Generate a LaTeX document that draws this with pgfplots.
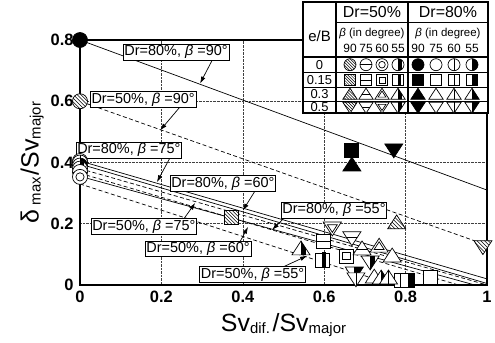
\documentclass[border=0pt]{standalone}
\usepackage{fontspec}
\setmainfont{Liberation Sans}
\usepackage{pgfplots}
\pgfplotsset{compat=1.18}
\usetikzlibrary{arrows.meta}

% ---- marker shapes -------------------------------------------------
\newcommand\shp[2]{%
  \if#1c\pgfpathcircle{\pgfpointorigin}{#2}\fi
  \if#1s\pgfpathrectanglecorners{\pgfpoint{-#2}{-#2}}{\pgfpoint{#2}{#2}}\fi
  \if#1t\pgfpathmoveto{\pgfpoint{0pt}{1.05*#2}}\pgfpathlineto{\pgfpoint{-1.2*#2}{-0.8*#2}}\pgfpathlineto{\pgfpoint{1.2*#2}{-0.8*#2}}\pgfpathclose\fi
  \if#1v\pgfpathmoveto{\pgfpoint{0pt}{-1.05*#2}}\pgfpathlineto{\pgfpoint{-1.2*#2}{0.8*#2}}\pgfpathlineto{\pgfpoint{1.2*#2}{0.8*#2}}\pgfpathclose\fi}
\newcommand\mkbegin{\pgfsetlinewidth{0.7bp}\pgfsetstrokecolor{black}\pgfsetdash{}{0pt}}
\newcommand\mkbase[2]{\mkbegin\pgfsetfillcolor{white}\shp{#1}{#2}\pgfusepath{fill}}
\newcommand\mkF[2]{\mkbegin\pgfsetfillcolor{black}\shp{#1}{#2}\pgfusepath{fill,stroke}}
\newcommand\mkO[2]{\mkbegin\pgfsetfillcolor{white}\shp{#1}{#2}\pgfusepath{fill,stroke}}
\newcommand\mkV[2]{\mkbase{#1}{#2}%
  \begin{pgfscope}\shp{#1}{#2}\pgfusepath{clip}\pgfpathmoveto{\pgfpoint{0pt}{-2*#2}}\pgfpathlineto{\pgfpoint{0pt}{2*#2}}\pgfusepath{stroke}\end{pgfscope}%
  \shp{#1}{#2}\pgfusepath{stroke}}
\newcommand\mkH[2]{\mkbase{#1}{#2}%
  \begin{pgfscope}\shp{#1}{#2}\pgfusepath{clip}\pgfpathmoveto{\pgfpoint{-2*#2}{0pt}}\pgfpathlineto{\pgfpoint{2*#2}{0pt}}\pgfusepath{stroke}\end{pgfscope}%
  \shp{#1}{#2}\pgfusepath{stroke}}
\newcommand\mkD[2]{\mkbase{#1}{#2}\shp{#1}{#2}\pgfusepath{stroke}\shp{#1}{0.55*#2}\pgfusepath{stroke}}
\newcommand\mkR[2]{\mkbase{#1}{#2}%
  \begin{pgfscope}\shp{#1}{#2}\pgfusepath{clip}\pgfsetfillcolor{black}\pgfpathrectanglecorners{\pgfpoint{0pt}{-2*#2}}{\pgfpoint{2*#2}{2*#2}}\pgfusepath{fill}\end{pgfscope}%
  \shp{#1}{#2}\pgfusepath{stroke}}
\newcommand\mkM[2]{\mkbase{#1}{#2}%
  \begin{pgfscope}\shp{#1}{#2}\pgfusepath{clip}\pgfsetfillcolor{black}\pgfpathrectanglecorners{\pgfpoint{0pt}{-2*#2}}{\pgfpoint{0.6*#2}{2*#2}}\pgfusepath{fill}\end{pgfscope}%
  \shp{#1}{#2}\pgfusepath{stroke}}
\newcommand\mkX[2]{\mkbase{#1}{#2}%
  \begin{pgfscope}\shp{#1}{#2}\pgfusepath{clip}\pgfsetlinewidth{0.45bp}%
  \foreach \k in {-4,...,4}{\pgfpathmoveto{\pgfpoint{\k*0.5*#2-2*#2}{2*#2}}\pgfpathlineto{\pgfpoint{\k*0.5*#2+2*#2}{-2*#2}}\pgfusepath{stroke}}%
  \end{pgfscope}\shp{#1}{#2}\pgfusepath{stroke}}
\newcommand\declmarks[2]{%
  \pgfdeclareplotmark{#1-f}{\mkF{#1}{#2}}%
  \pgfdeclareplotmark{#1-o}{\mkO{#1}{#2}}%
  \pgfdeclareplotmark{#1-v}{\mkV{#1}{#2}}%
  \pgfdeclareplotmark{#1-h}{\mkH{#1}{#2}}%
  \pgfdeclareplotmark{#1-d}{\mkD{#1}{#2}}%
  \pgfdeclareplotmark{#1-r}{\mkR{#1}{#2}}%
  \pgfdeclareplotmark{#1-m}{\mkM{#1}{#2}}%
  \pgfdeclareplotmark{#1-x}{\mkX{#1}{#2}}}
\declmarks{c}{7.5bp}\declmarks{s}{7bp}\declmarks{t}{7.5bp}\declmarks{v}{7.5bp}

\newcommand\lbl{\fontsize{14.5}{15}\selectfont}
\newcommand\bigf{\fontsize{25}{25}\selectfont}
\newcommand\subf{\fontsize{15}{15}\selectfont}
\newcommand\pt[3]{\addplot[black, only marks, mark=#1] coordinates {#2};}
\newcommand\legrow[2]{%
  \addplot[black, only marks, mark=#1-x, mark options={scale=0.8}] coordinates {(47,#2)};
  \addplot[black, only marks, mark=#1-h, mark options={scale=0.8}] coordinates {(63,#2)};
  \addplot[black, only marks, mark=#1-d, mark options={scale=0.8}] coordinates {(79,#2)};
  \addplot[black, only marks, mark=#1-m, mark options={scale=0.8}] coordinates {(95,#2)};
  \addplot[black, only marks, mark=#1-f, mark options={scale=0.8}] coordinates {(115,#2)};
  \addplot[black, only marks, mark=#1-o, mark options={scale=0.8}] coordinates {(133,#2)};
  \addplot[black, only marks, mark=#1-v, mark options={scale=0.8}] coordinates {(151,#2)};
  \addplot[black, only marks, mark=#1-r, mark options={scale=0.8}] coordinates {(169,#2)};}
\newcommand\degnum[2]{\node[font=\fontsize{12}{12}\selectfont] at (axis cs:#1,64.5) {#2};}

\begin{document}
\begin{tikzpicture}
\begin{axis}[
  scale only axis, width=407bp, height=245bp,
  at={(0,0)}, anchor=south west,
  xmin=0, xmax=1, ymin=0, ymax=0.8,
  xtick={0,0.2,0.4,0.6,0.8,1}, xticklabels={0,0.2,0.4,0.6,0.8,1},
  ytick={0,0.2,0.4,0.6,0.8}, yticklabels={0,0.2,0.4,0.6,0.8},
  grid=major, major grid style={densely dotted, black!75, line width=0.6bp},
  axis line style={line width=2.6bp},
  major tick length=0pt,
  tick label style={font=\fontsize{16.5}{16.5}\selectfont\bfseries},
  xticklabel style={yshift=-3bp},
  yticklabel style={xshift=-3bp},
  clip=false,
  xlabel style={yshift=-3bp},
  xlabel={{\bigf Sv}\raisebox{-2bp}{\subf dif.}\ {\bigf /Sv}\raisebox{-2bp}{\subf major}},
  ylabel={{\bigf δ}\raisebox{-2bp}{\subf\ max}\,{\bigf /Sv}\raisebox{-2bp}{\subf major}},
]
% regression lines
\addplot[black, line width=0.7bp, no marks] coordinates {(0,0.80) (1,0.31)};
\addplot[black, line width=0.7bp, no marks, dash pattern=on 4bp off 2.5bp] coordinates {(0,0.60) (1,0.13)};
\addplot[black, line width=0.7bp, no marks] coordinates {(0,0.405) (1,0.02)};
\addplot[black, line width=0.7bp, no marks] coordinates {(0,0.395) (1,0.005)};
\addplot[black, line width=0.7bp, no marks, dash pattern=on 4bp off 2.5bp] coordinates {(0,0.38) (1,0.0)};
\addplot[black, line width=0.7bp, no marks, dash pattern=on 4bp off 2.5bp] coordinates {(0,0.365) (0.93,0.0)};
\addplot[black, line width=0.7bp, no marks] coordinates {(0,0.355) (0.97,0.0)};
\addplot[black, line width=0.7bp, no marks, dash pattern=on 4bp off 2.5bp] coordinates {(0,0.33) (0.77,0.0)};
% e/B = 0 (circles)
\pt{c-o}{(0,0.405)}{}
\pt{c-v}{(0,0.40)}{}
\pt{c-r}{(0,0.39)}{}
\pt{c-m}{(0,0.38)}{}
\pt{c-h}{(0,0.369)}{}
\pt{c-d}{(0,0.353)}{}
\pt{c-x}{(0,0.60)}{}
\pt{c-f}{(0,0.80)}{}
% e/B = 0.15 (squares)
\pt{s-f}{(0.666,0.441)}{}
\pt{s-x}{(0.373,0.222)}{}
\pt{s-h}{(0.597,0.144)}{}
\pt{s-d}{(0.654,0.095)}{}
\pt{s-m}{(0.595,0.082)}{}
\pt{s-v}{(0.79,0.016)}{}
\pt{s-r}{(0.805,0.016)}{}
\pt{s-o}{(0.862,0.026)}{}
% e/B = 0.3 (triangles)
\pt{t-f}{(0.668,0.392)}{}
\pt{t-x}{(0.778,0.203)}{}
\pt{t-m}{(0.543,0.118)}{}
\pt{t-h}{(0.693,0.118)}{}
\pt{t-d}{(0.735,0.127)}{}
\pt{t-o}{(0.767,0.095) (0.723,0.026)}{}
\pt{t-r}{(0.74,0.023)}{}
\pt{t-v}{(0.758,0.023)}{}
% e/B = 0.5 (inverted triangles)
\pt{v-f}{(0.771,0.441)}{}
\pt{v-x}{(0.99,0.125)}{}
\pt{v-d}{(0.62,0.186)}{}
\pt{v-h}{(0.668,0.154)}{}
\pt{v-m}{(0.713,0.075)}{}
\pt{v-r}{(0.674,0.039)}{}
\pt{v-v}{(0.678,0.02)}{}
% annotations
\tikzset{lab/.style={draw, fill=white, inner sep=1.2bp, line width=0.6bp, font=\lbl},
         arr/.style={-{Latex[length=7bp,width=4.5bp]}, line width=0.7bp}}
\draw[arr] (axis cs:0.324,0.732) -- (axis cs:0.295,0.658);
\draw[arr] (axis cs:0.246,0.582) -- (axis cs:0.197,0.505);
\draw[arr] (axis cs:0.221,0.415) -- (axis cs:0.189,0.336);
\draw[arr] (axis cs:0.430,0.307) -- (axis cs:0.400,0.243);
\draw[arr] (axis cs:0.253,0.212) -- (axis cs:0.283,0.268);
\draw[arr] (axis cs:0.504,0.222) -- (axis cs:0.472,0.180);
\draw[arr] (axis cs:0.393,0.141) -- (axis cs:0.413,0.190);
\draw[arr] (axis cs:0.499,0.059) -- (axis cs:0.558,0.095);
\node[lab] at (axis cs:0.236,0.760) {Dr=80\%, \textit{β} =90°};
\node[lab] at (axis cs:0.155,0.606) {Dr=50\%, \textit{β} =90°};
\node[lab] at (axis cs:0.120,0.440) {Dr=80\%, \textit{β} =75°};
\node[lab] at (axis cs:0.351,0.332) {Dr=80\%, \textit{β} =60°};
\node[lab] at (axis cs:0.157,0.191) {Dr=50\%, \textit{β} =75°};
\node[lab] at (axis cs:0.624,0.245) {Dr=80\%, \textit{β} =55°};
\node[lab] at (axis cs:0.290,0.118) {Dr=50\%, \textit{β} =60°};
\node[lab] at (axis cs:0.424,0.034) {Dr=50\%, \textit{β} =55°};
\end{axis}

% legend table as a second axis
\begin{axis}[
  scale only axis, width=185bp, height=111bp,
  at={(223bp,172bp)}, anchor=south west,
  xmin=0, xmax=185, ymin=0, ymax=111,
  axis lines=none, clip=false,
]
\fill[white] (axis cs:0,0) rectangle (axis cs:185,111);
\draw[line width=1bp] (axis cs:33,90) -- (axis cs:185,90);
\draw[line width=1bp] (axis cs:0,40.5) -- (axis cs:185,40.5);
\draw[line width=1bp] (axis cs:0,25.5) -- (axis cs:185,25.5);
\draw[line width=1bp] (axis cs:0,11.5) -- (axis cs:185,11.5);
\draw[line width=1.6bp] (axis cs:0,56) -- (axis cs:185,56);
\draw[line width=1.6bp] (axis cs:33,0) -- (axis cs:33,111);
\draw[line width=1.6bp] (axis cs:105,0) -- (axis cs:105,111);
\draw[line width=1.8bp] (axis cs:0,0) rectangle (axis cs:185,111);
\legrow{c}{48.3}
\legrow{s}{33}
\legrow{t}{18.5}
\legrow{v}{6}
\node[font=\fontsize{16}{16}\selectfont] at (axis cs:69,100.5) {Dr=50\%};
\node[font=\fontsize{16}{16}\selectfont] at (axis cs:145,100.5) {Dr=80\%};
\node[font=\fontsize{15}{15}\selectfont] at (axis cs:16.5,77) {e/B};
\node[font=\fontsize{11.5}{12}\selectfont] at (axis cs:69,79) {\textit{β} (in degree)};
\node[font=\fontsize{11.5}{12}\selectfont] at (axis cs:145,79) {\textit{β} (in degree)};
\degnum{47}{90}\degnum{63}{75}\degnum{79}{60}\degnum{95}{55}
\degnum{115}{90}\degnum{133}{75}\degnum{151}{60}\degnum{169}{55}
\node[font=\fontsize{13}{13}\selectfont] at (axis cs:16.5,48.3) {0};
\node[font=\fontsize{13}{13}\selectfont] at (axis cs:16.5,33) {0.15};
\node[font=\fontsize{13}{13}\selectfont] at (axis cs:16.5,18.5) {0.3};
\node[font=\fontsize{13}{13}\selectfont] at (axis cs:16.5,6) {0.5};
\end{axis}
\pgfresetboundingbox
\path[use as bounding box] (-80bp,-58bp) rectangle (415bp,285bp);
\end{tikzpicture}
\end{document}
